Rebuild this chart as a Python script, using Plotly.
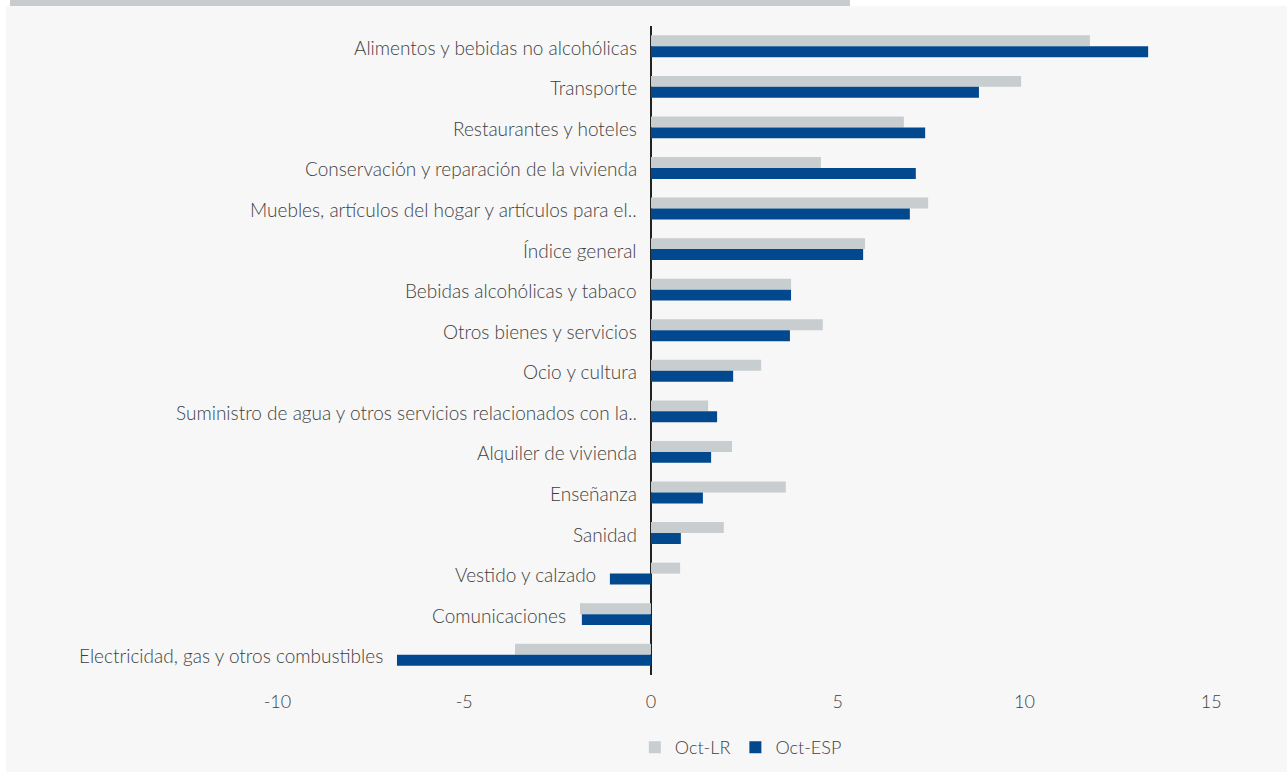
import plotly.graph_objects as go

categorias = [
    "Alimentos y bebidas no alcohólicas",
    "Transporte",
    "Restaurantes y hoteles",
    "Conservación y reparación de la vivienda",
    "Muebles, artículos del hogar y artículos para el..",
    "Índice general",
    "Bebidas alcohólicas y tabaco",
    "Otros bienes y servicios",
    "Ocio y cultura",
    "Suministro de agua y otros servicios relacionados con la..",
    "Alquiler de vivienda",
    "Enseñanza",
    "Sanidad",
    "Vestido y calzado",
    "Comunicaciones",
    "Electricidad, gas y otros combustibles",
]
oct_lr = [11.75, 9.91, 6.77, 4.55, 7.42, 5.73, 3.75, 4.6, 2.95, 1.53, 2.17, 3.61, 1.95, 0.78, -1.9, -3.64]
oct_esp = [13.31, 8.78, 7.34, 7.09, 6.93, 5.68, 3.75, 3.72, 2.2, 1.77, 1.61, 1.39, 0.8, -1.1, -1.85, -6.8]
ticks = [-10, -5, 0, 5, 10, 15]
tick_txt = ["-10", "-5", "0", "5", "10", "15"]

GRIS = "#c8cdd0"
AZUL = "#02488e"
TEXTO = "#3f3f3f"
FUENTE = "Lato, 'Open Sans', sans-serif"

fig = go.Figure()
fig.add_trace(go.Bar(y=categorias, x=oct_lr, name="Oct-LR", orientation="h",
                     marker=dict(color=GRIS, line=dict(width=0))))
fig.add_trace(go.Bar(y=categorias, x=oct_esp, name="Oct-ESP", orientation="h",
                     marker=dict(color=AZUL, line=dict(width=0))))

# etiquetas de categoría a la izquierda de la barra más negativa (o del cero)
for cat, a, b in zip(categorias, oct_lr, oct_esp):
    fig.add_annotation(x=min(0, a, b), y=cat, text=cat, showarrow=False,
                       xanchor="right", yanchor="middle", xshift=-12, yshift=-1,
                       font=dict(size=19, color=TEXTO, family=FUENTE, weight=300))

# fondo gris claro y franja superior
fig.add_shape(type="rect", xref="paper", yref="paper", x0=-0.0032, x1=1.01, y0=-0.2, y1=1.0308,
              fillcolor="#f7f7f7", line=dict(width=0), layer="below")
fig.add_shape(type="rect", xref="paper", yref="paper", x0=0, x1=0.6614, y0=1.0308, y1=1.045,
              fillcolor="#c8cccf", line=dict(width=0), layer="below")

fig.update_layout(
    width=1287, height=772,
    paper_bgcolor="white",
    plot_bgcolor="rgba(0,0,0,0)",
    margin=dict(l=10, r=7, t=26, b=96),
    barmode="group", bargap=0.46, bargroupgap=0,
    font=dict(family=FUENTE, color=TEXTO, size=18, weight=300),
    showlegend=True,
    legend=dict(orientation="h", x=0.492, xanchor="left", y=-0.11, yanchor="middle",
                font=dict(size=18, color=TEXTO, weight=300), bgcolor="rgba(0,0,0,0)",
                itemwidth=30, traceorder="normal"),
    xaxis=dict(range=[-17.16, 16.84], tickvals=ticks, ticktext=tick_txt, showgrid=False,
               zeroline=True, zerolinecolor="#222222", zerolinewidth=1.5,
               showline=False, ticks="", ticklabelstandoff=14,
               tickfont=dict(size=18, color=TEXTO, weight=300)),
    yaxis=dict(categoryorder="array", categoryarray=categorias, range=[15.5, -0.5],
               showticklabels=False, showgrid=False, zeroline=False, ticks=""),
)

fig.write_html("out.html", config={"displayModeBar": False},
               post_script="document.body.style.margin='0';")
